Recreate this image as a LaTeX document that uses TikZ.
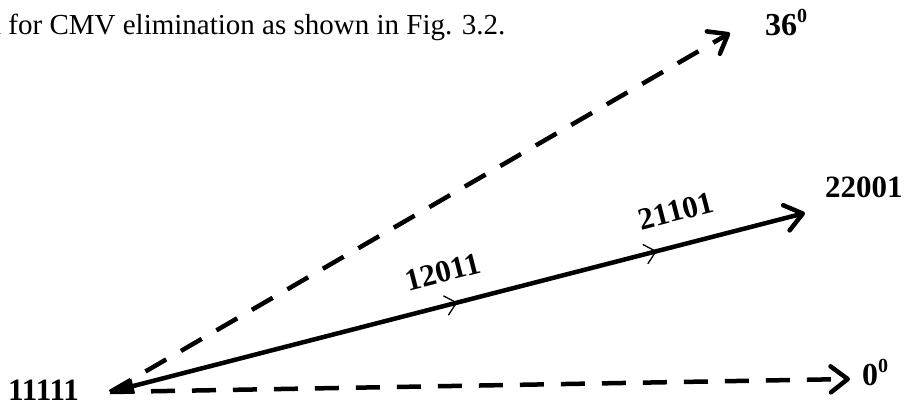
\documentclass[tikz,border=0pt]{standalone}
\usepackage{fontspec}
\setmainfont{Liberation Serif}
\usetikzlibrary{arrows.meta,decorations.markings}
\newcommand{\supz}{\raisebox{13pt}{\fontsize{20}{20}\selectfont 0}}
\begin{document}
\begin{tikzpicture}[x=1pt,y=-1pt,
  lbl/.style={font=\fontsize{31}{32}\selectfont\bfseries, inner sep=0pt},
  deglbl/.style={font=\fontsize{32}{33}\selectfont\bfseries, inner sep=0pt},
  captxt/.style={font=\fontsize{29}{30}\selectfont, inner sep=0pt},
  solidln/.style={line width=4.5pt},
  dashln/.style={line width=4.5pt, dash pattern=on 24pt off 17pt},
  barb/.style={-{Straight Barb[length=17pt,width=26pt,line width=4.5pt,round]}},
  midarrows/.style={postaction={decorate}, decoration={markings,
    mark=at position 0.5 with {\arrow{Straight Barb[length=11pt,width=20pt,line width=1.3pt]}},
    mark=at position 0.787 with {\arrow{Straight Barb[length=11pt,width=20pt,line width=1.3pt]}}}}
]
\clip (0,0) rectangle (906,407);
\useasboundingbox (0,0) rectangle (906,407);

\coordinate (o) at (110,392);
\coordinate (t36) at (730,33);
\coordinate (t22) at (805,213);
\coordinate (t0) at (850,379);

\node[captxt, anchor=base west] (caption) at (-13.5,34) {d for CMV elimination as shown in Fig. 3.2.};
\node[deglbl, anchor=base west] (l36) at (765,35) {36\supz};
\node[lbl, anchor=base west] (l22001) at (825,197) {22001};
\node[deglbl, anchor=base west] (l0) at (862,385) {0\supz};
\node[lbl, anchor=base west] (l11111) at (8,400) {11111};
\node[lbl, rotate=14.4] (l21101) at (676,211) {21101};
\node[lbl, rotate=14.4] (l12011) at (443,272) {12011};

\draw[dashln, barb] (o) -- (t36);
\draw[dashln, barb] (o) -- (t0);
\draw[solidln, {Latex[length=24pt,width=16pt]}-{Straight Barb[length=17pt,width=26pt,line width=4.5pt,round]},
  midarrows] (o) -- (t22);
\end{tikzpicture}
\end{document}
